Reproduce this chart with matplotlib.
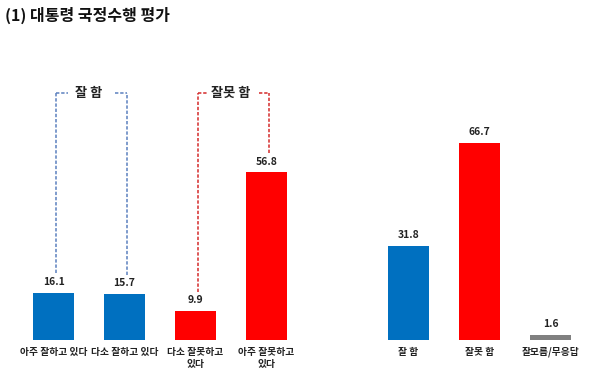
import matplotlib
matplotlib.use("Agg")
import matplotlib.pyplot as plt

plt.rcParams['font.family'] = ['Noto Sans CJK KR', 'DejaVu Sans']

# --- data ---
categories = ['아주 잘하고 있다', '다소 잘하고 있다', '다소 잘못하고\n있다', '아주 잘못하고\n있다',
              '잘 함', '잘못 함', '잘모름/무응답']
values = [16.1, 15.7, 9.9, 56.8, 31.8, 66.7, 1.6]
positions = [0, 1, 2, 3, 5, 6, 7]
colors = ['#0070C0', '#0070C0', '#FF0000', '#FF0000', '#0070C0', '#FF0000', '#808080']

# bracket groups: (label, first bar index, last bar index, colour)
groups = [('잘 함', 0, 1, '#5B80BE'), ('잘못 함', 2, 3, '#D42A2A')]

fig = plt.figure(figsize=(6, 3.78), dpi=100)
ax = fig.add_axes([0, 38 / 378, 1, 340 / 378])

px = 71.0  # pixels per category slot
ax.set_xlim(-53.5 / px, (600 - 53.5) / px)
ax.set_ylim(0, 340 / 2.95)

ax.bar(positions, values, width=0.58, color=colors)

for p, v in zip(positions, values):
    ax.text(p, v + 2.0, f'{v:.1f}', ha='center', va='bottom', fontsize=7.5, fontweight='bold', color='#222222')

ax.set_xticks(positions)
ax.set_xticklabels(categories, fontsize=7, fontweight='bold', color='#222222', linespacing=1.2)
ax.tick_params(axis='x', length=0, pad=5)
ax.set_yticks([])
for s in ax.spines.values():
    s.set_visible(False)

# dashed brackets over the bar groups
top = 83.7
for label, i0, i1, col in groups:
    x0 = positions[i0] + 0.04
    x1 = positions[i1] + 0.04
    mid = (x0 + x1) / 2
    gap = 0.33 if len(label) < 4 else 0.36
    kw = dict(color=col, lw=1.1, ls=(0, (2.2, 1.2)))
    ax.plot([x0, x0], [values[i0] + 6.5, top], **kw)
    ax.plot([x1, x1], [values[i1] + 6.5, top], **kw)
    ax.plot([x0, mid - gap], [top, top], **kw)
    ax.plot([mid + gap, x1], [top, top], **kw)
    ax.text(mid - 0.04, top, label, ha='center', va='center', fontsize=9.5, fontweight='bold', color='#222222')

fig.text(5 / 600, 1 - 15 / 378, '(1) 대통령 국정수행 평가', ha='left', va='center',
         fontsize=11.5, fontweight='bold', color='#111111')

fig.savefig('out.png', dpi=100)
